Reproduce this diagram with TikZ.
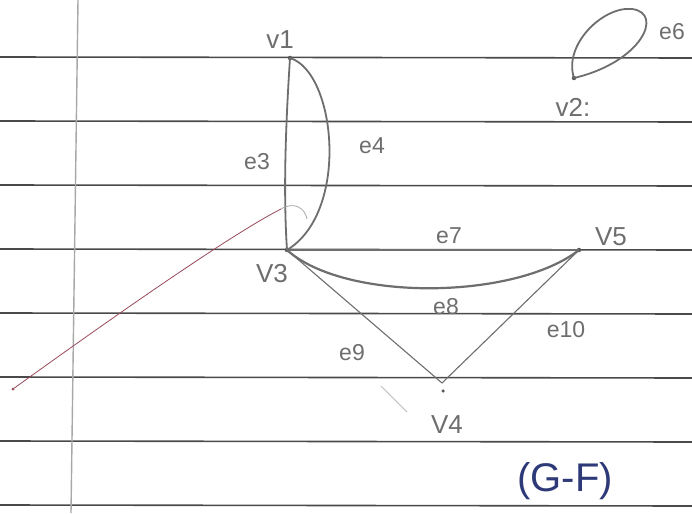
\documentclass[tikz,border=0pt]{standalone}
\usepackage{fontspec}
\setmainfont{Liberation Sans}
\definecolor{pencil}{HTML}{6E6E6E}
\definecolor{rule}{HTML}{4A4A4A}
\definecolor{margin}{HTML}{A8A8A8}
\definecolor{redpen}{HTML}{9A4A5A}
\definecolor{bluepen}{HTML}{2E3A78}
\tikzset{
  ruleline/.style={draw=rule, line width=1.6pt},
  edge/.style={draw=pencil, line width=1.8pt},
  thinedge/.style={draw=pencil, line width=1.1pt},
  vdot/.style={circle, fill=pencil!80!black, inner sep=0pt, minimum size=4.5pt},
  lbl/.style={text=pencil, font=\fontsize{23}{23}\selectfont, inner sep=0pt},
  vlbl/.style={text=pencil, font=\fontsize{26}{26}\selectfont, inner sep=0pt},
}
\begin{document}
\begin{tikzpicture}[x=1pt,y=-1pt]
\useasboundingbox (0,0) rectangle (692,513);
\fill[white] (0,0) rectangle (692,513);
% ruled lines
\foreach \yy in {57,121,185,249,313,377,441,505}
  \draw[ruleline] (0,\yy) -- (692,\yy+1);
% margin line
\draw[margin, line width=1.4pt] (78,0) -- (71,513);
% vertices
\node[vdot] (v1) at (290,58) {};
\node[vdot] (v3) at (287,250) {};
\node[vdot] (v5) at (579,250) {};
\node[coordinate] (v4) at (442,383) {};
\node[vdot, minimum size=3.5pt] (v4dot) at (443,391) {};
\node[vdot] (v2) at (574,78) {};
% edges
\draw[edge] (v1.center) .. controls (286,120) and (283,190) .. (v3.center);
\draw[edge] (v1.center) .. controls (336,72) and (350,212) .. (v3.center);
\draw[edge] (v3.center) -- (v5.center);
\draw[edge, line width=2.2pt] (v3.center) .. controls (345,302) and (515,300) .. (v5.center);
\draw[thinedge] (v3.center) -- (v4);
\draw[thinedge] (v4) -- (v5.center);
\draw[edge] (v2.center) .. controls (563,45) and (603,6) .. (632,9)
  .. controls (664,13) and (642,62) .. (v2.center);
% red pen stroke and faint marks
\node[circle, fill=redpen, inner sep=0pt, minimum size=3pt] (r0) at (13,389) {};
\coordinate (r1) at (281,209);
\coordinate (a1) at (307,219);
\draw[redpen, line width=0.8pt] (r0.center) .. controls (120,312) and (232,234) .. (r1);
\draw[pencil!60, line width=0.8pt] (r1) .. controls (294,201) and (305,208) .. (a1);
\coordinate (f0) at (381,386);
\coordinate (f1) at (407,412);
\draw[pencil!45, line width=0.8pt] (f0) -- (f1);
% labels
\node[vlbl] (lv1) at (280,40) {v1};
\node[vlbl] (lv2) at (573,107) {v2:};
\node[vlbl] (lv3) at (272,274) {V3};
\node[vlbl] (lv5) at (611,237) {V5};
\node[vlbl] (lv4) at (447,425) {V4};
\node[lbl] (le3) at (257,162) {e3};
\node[lbl] (le4) at (372,146) {e4};
\node[lbl] (le6) at (672,32) {e6};
\node[lbl] (le7) at (449,236) {e7};
\node[lbl] (le8) at (446,307) {e8};
\node[lbl] (le9) at (352,353) {e9};
\node[lbl] (le10) at (566,330) {e10};
\node[text=bluepen, font=\fontsize{40}{40}\selectfont, inner sep=0pt] (gf) at (565,481) {(G-F)};
\end{tikzpicture}
\end{document}
